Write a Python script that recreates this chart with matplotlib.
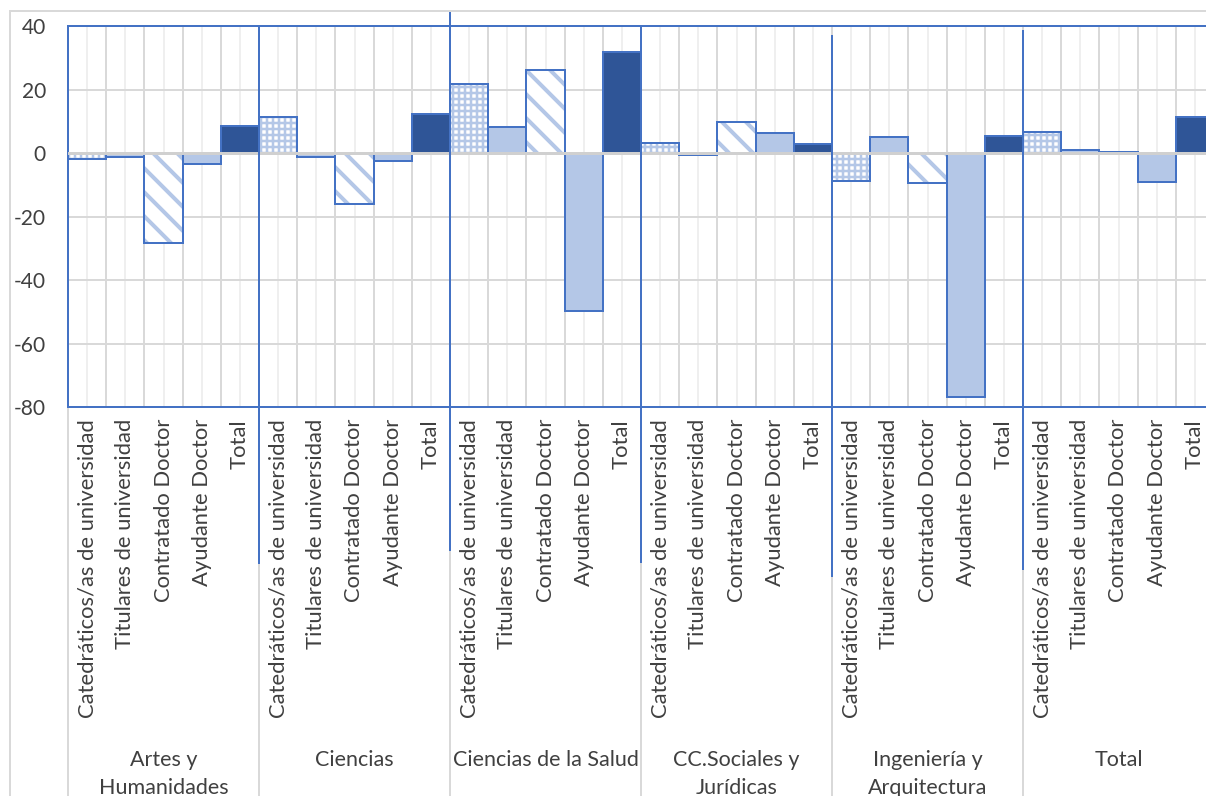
import numpy as np
import matplotlib.pyplot as plt
import matplotlib.transforms as mtransforms

plt.rcParams['font.family'] = ['Lato', 'DejaVu Sans']
plt.rcParams['axes.unicode_minus'] = False

# datos: variación por rama y cuerpo docente
areas = ['Artes y\nHumanidades', 'Ciencias', 'Ciencias de la Salud',
         'CC.Sociales y\nJurídicas', 'Ingeniería y\nArquitectura', 'Total']
cuerpos = ['Catedráticos/as de universidad', 'Titulares de universidad',
           'Contratado Doctor', 'Ayudante Doctor', 'Total']

catedraticos = [-2.0, 11.3, 21.6, 3.1, -8.9, 6.6]
titulares = [-1.3, -1.3, 8.1, -0.7, 4.9, 1.1]
contratado = [-28.2, -16.1, 26.0, 9.8, -9.6, 0.4]
ayudante = [-3.4, -2.5, -49.9, 6.2, -76.7, -9.0]
total = [8.6, 12.4, 31.9, 2.9, 5.4, 11.2]

series = [catedraticos, titulares, contratado, ayudante, total]

azul = '#4472c4'
azul_claro = '#b4c7e7'
azul_osc = '#2f5597'
gris = '#d9d9d9'
texto = '#404040'

W, H = 1206, 796
fig = plt.figure(figsize=(W / 72, H / 72), dpi=72)
ax = fig.add_axes([68 / W, 1 - 407 / H, (1214 - 68) / W, 381 / H])

n = len(cuerpos)
base = np.arange(len(areas)) * n

for k, vals in enumerate(series):
    xs = base + k
    if k == 0:
        bars = ax.bar(xs, vals, width=1.0, color='white', edgecolor=azul_claro,
                      hatch='++', linewidth=0, zorder=2)
        hw = 2.5
    elif k == 2:
        bars = ax.bar(xs, vals, width=1.0, color='white', edgecolor=azul_claro,
                      hatch='\\', linewidth=0, zorder=2)
        hw = 4.0
    elif k == 4:
        bars = ax.bar(xs, vals, width=1.0, color=azul_osc, linewidth=0, zorder=2)
        hw = None
    else:
        bars = ax.bar(xs, vals, width=1.0, color=azul_claro, linewidth=0, zorder=2)
        hw = None
    if hw is not None:
        for b in bars:
            if hasattr(b, 'set_hatch_linewidth'):
                b.set_hatch_linewidth(hw)
    ax.bar(xs, vals, width=1.0, color='none', edgecolor=azul, linewidth=2,
           zorder=3)

# línea del cero
ax.axhline(0, color='#d0d0d0', lw=3, zorder=3.5)

ax.set_xlim(-0.5, len(areas) * n - 0.5)
ax.set_ylim(-80, 40)
ax.set_yticks(np.arange(-80, 41, 20))

ax.set_xticks(np.arange(len(areas) * n))
ax.set_xticklabels(cuerpos * len(areas), rotation=90, va='top', ha='center',
                   fontsize=22, color=texto)
ax.set_xticks(np.arange(len(areas) * n + 1) - 0.5, minor=True)
ax.tick_params(axis='x', which='both', length=0, pad=12)
ax.tick_params(axis='y', length=0, pad=22, labelsize=21, labelcolor=texto)

ax.set_axisbelow(True)
ax.grid(axis='x', which='major', color='#efefef', lw=2)
ax.grid(axis='x', which='minor', color=gris, lw=2)
ax.grid(axis='y', which='major', color=gris, lw=2)

for s in ['top', 'bottom', 'left']:
    ax.spines[s].set_color(azul)
    ax.spines[s].set_linewidth(2)
ax.spines['right'].set_visible(False)

trans = mtransforms.blended_transform_factory(ax.transData, ax.transAxes)


def fy(py):
    # posición vertical en fracción de ejes a partir de píxeles desde arriba
    return (407 - py) / 381


# separadores grises entre ramas bajo el eje
for g in range(len(areas) + 1):
    ax.plot([g * n - 0.5] * 2, [0, fy(H + 5)], color=gris, lw=2,
            transform=trans, clip_on=False, zorder=1)

# líneas azules de separación
cortes = [(1, 26, 563), (2, 12, 550), (3, 26, 562), (4, 36, 576), (5, 31, 569)]
for g, y0, y1 in cortes:
    ax.plot([g * n - 0.5] * 2, [fy(y0), fy(y1)], color=azul, lw=2,
            transform=trans, clip_on=False, zorder=5)

# etiquetas de rama
for g, nombre in enumerate(areas):
    ax.text(base[g] + (n - 1) / 2, fy(750), nombre, transform=trans,
            ha='center', va='top', fontsize=21.5, color=texto, linespacing=1.5)

# borde del gráfico
fig.add_artist(plt.Line2D([10 / W, 10 / W], [0, 1 - 11 / H], color=gris, lw=2))
fig.add_artist(plt.Line2D([10 / W, 1], [1 - 11 / H, 1 - 11 / H], color=gris, lw=2))

fig.savefig('out.png', dpi=72)
